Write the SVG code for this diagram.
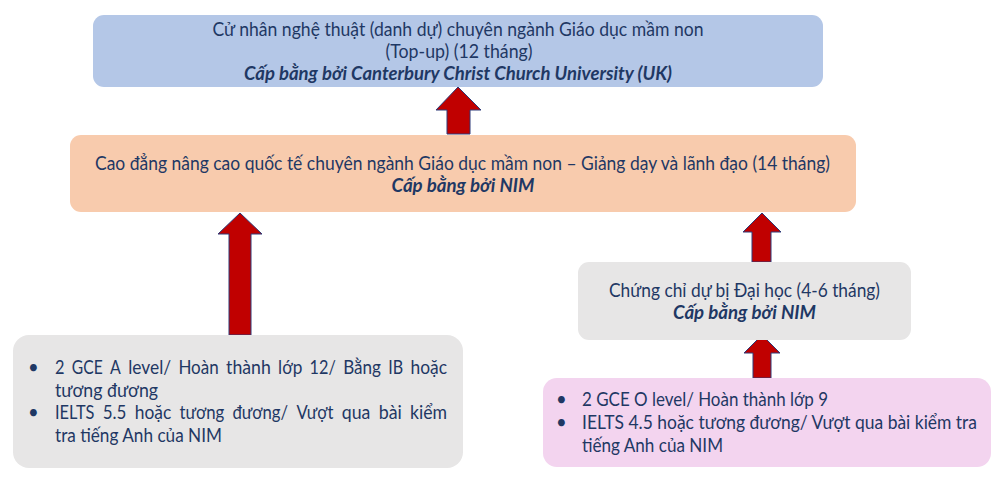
<svg xmlns="http://www.w3.org/2000/svg" width="1001" height="484" viewBox="0 0 1001 484">
<style>
text{font-family:Lato,"Open Sans","Liberation Sans",sans-serif;font-size:18.5px;fill:#1f3864}
.c{text-anchor:middle}
.bi{font-weight:bold;font-style:italic}
.arrow{fill:#c00000;stroke:#2e3a78;stroke-width:1}
</style>
<rect width="1001" height="484" fill="#ffffff"/>
<g id="connectors">
<polygon class="arrow" points="458,87 481,110 470,110 470,134 447,134 447,110 436,110"/>
<polygon class="arrow" points="240,213 262,234 251,234 251,335 229,335 229,234 218,234"/>
<polygon class="arrow" points="762,213 781,232 771,232 771,262 752,262 752,232 743,232"/>
<polygon class="arrow" points="762,335 780,353 771,353 771,378 753,378 753,353 744,353"/>
</g>
<g id="node-bachelor">
<rect x="93" y="15" width="730" height="72" rx="11" fill="#b4c7e7"/>
<text class="c" x="458" y="36" textLength="491" lengthAdjust="spacingAndGlyphs">Cử nhân nghệ thuật (danh dự) chuyên ngành Giáo dục mầm non</text>
<text class="c" x="459" y="58" textLength="147" lengthAdjust="spacingAndGlyphs">(Top-up) (12 tháng)</text>
<text class="c bi" x="458" y="80" textLength="428" lengthAdjust="spacingAndGlyphs">Cấp bằng bởi Canterbury Christ Church University (UK)</text>
</g>
<g id="node-diploma">
<rect x="70" y="135" width="786" height="77" rx="11" fill="#f8cbad"/>
<text class="c" x="462.5" y="170" textLength="735" lengthAdjust="spacingAndGlyphs">Cao đẳng nâng cao quốc tế chuyên ngành Giáo dục mầm non – Giảng dạy và lãnh đạo (14 tháng)</text>
<text class="c bi" x="463" y="192" textLength="143" lengthAdjust="spacingAndGlyphs">Cấp bằng bởi NIM</text>
</g>
<g id="node-foundation">
<rect x="578" y="262" width="333" height="78" rx="11" fill="#e7e6e6"/>
<text class="c" x="744.5" y="297" textLength="271" lengthAdjust="spacingAndGlyphs">Chứng chỉ dự bị Đại học (4-6 tháng)</text>
<text class="c bi" x="744.5" y="319" textLength="143" lengthAdjust="spacingAndGlyphs">Cấp bằng bởi NIM</text>
</g>
<g id="node-entry-a">
<rect x="13" y="335" width="450" height="133" rx="16" fill="#e7e6e6"/>
<text x="28" y="374">•</text>
<text x="55" y="374" textLength="9.5" lengthAdjust="spacingAndGlyphs">2</text>
<text x="71.8" y="374" textLength="30.9" lengthAdjust="spacingAndGlyphs">GCE</text>
<text x="110" y="374" textLength="10.8" lengthAdjust="spacingAndGlyphs">A</text>
<text x="128.2" y="374" textLength="42.9" lengthAdjust="spacingAndGlyphs">level/</text>
<text x="178.4" y="374" textLength="40.3" lengthAdjust="spacingAndGlyphs">Hoàn</text>
<text x="226.1" y="374" textLength="44.7" lengthAdjust="spacingAndGlyphs">thành</text>
<text x="278.1" y="374" textLength="24.2" lengthAdjust="spacingAndGlyphs">lớp</text>
<text x="309.6" y="374" textLength="26.2" lengthAdjust="spacingAndGlyphs">12/</text>
<text x="343.2" y="374" textLength="37.8" lengthAdjust="spacingAndGlyphs">Bằng</text>
<text x="388.3" y="374" textLength="14.9" lengthAdjust="spacingAndGlyphs">IB</text>
<text x="410.5" y="374" textLength="36.5" lengthAdjust="spacingAndGlyphs">hoặc</text>
<text x="55" y="397" textLength="103" lengthAdjust="spacingAndGlyphs">tương đương</text>
<text x="28" y="419">•</text>
<text x="55" y="419" textLength="39.4" lengthAdjust="spacingAndGlyphs">IELTS</text>
<text x="102.7" y="419" textLength="23.7" lengthAdjust="spacingAndGlyphs">5.5</text>
<text x="134.7" y="419" textLength="36.5" lengthAdjust="spacingAndGlyphs">hoặc</text>
<text x="179.5" y="419" textLength="44.8" lengthAdjust="spacingAndGlyphs">tương</text>
<text x="232.5" y="419" textLength="55.6" lengthAdjust="spacingAndGlyphs">đương/</text>
<text x="296.4" y="419" textLength="37.1" lengthAdjust="spacingAndGlyphs">Vượt</text>
<text x="341.8" y="419" textLength="28.6" lengthAdjust="spacingAndGlyphs">qua</text>
<text x="378.7" y="419" textLength="23.1" lengthAdjust="spacingAndGlyphs">bài</text>
<text x="410" y="419" textLength="37" lengthAdjust="spacingAndGlyphs">kiểm</text>
<text x="55" y="442" textLength="167" lengthAdjust="spacingAndGlyphs">tra tiếng Anh của NIM</text>
</g>
<g id="node-entry-o">
<rect x="543" y="378" width="448" height="89" rx="14" fill="#f3d4ef"/>
<text x="556" y="406">•</text>
<text x="582" y="406" textLength="246" lengthAdjust="spacingAndGlyphs">2 GCE O level/ Hoàn thành lớp 9</text>
<text x="556" y="429">•</text>
<text x="582" y="429" textLength="395" lengthAdjust="spacingAndGlyphs">IELTS 4.5 hoặc tương đương/ Vượt qua bài kiểm tra</text>
<text x="582" y="452" textLength="141" lengthAdjust="spacingAndGlyphs">tiếng Anh của NIM</text>
</g>
</svg>
